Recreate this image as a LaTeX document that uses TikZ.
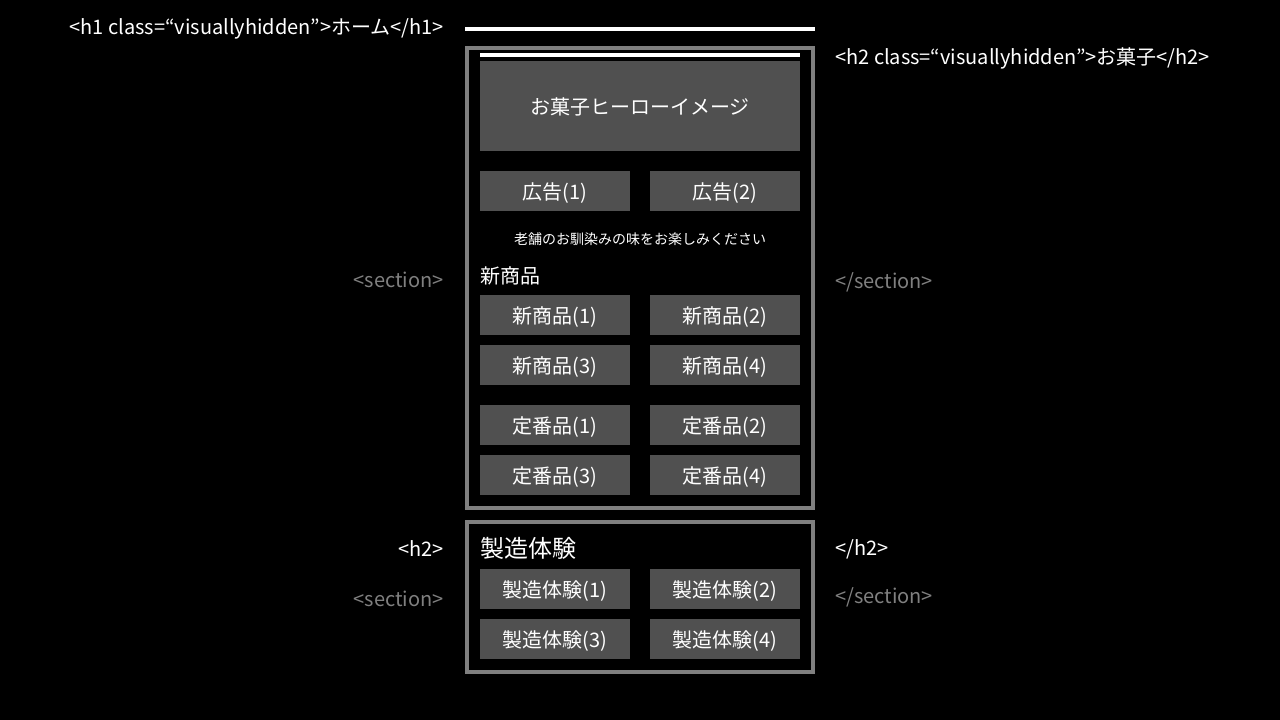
\documentclass[tikz,border=0pt]{standalone}
\usepackage{fontspec}
\setmainfont{Noto Sans CJK JP}
\usepackage{tikz}
\usetikzlibrary{positioning}
\definecolor{boxfill}{RGB}{80,80,80}
\definecolor{framegray}{RGB}{128,128,128}
\definecolor{taggray}{RGB}{128,128,128}

\begin{document}
\begin{tikzpicture}[
  x=1bp, y=-1bp,
  node distance=10bp and 20bp,
  item/.style={rectangle, fill=boxfill, text=white, minimum width=150bp,
               minimum height=40bp, inner sep=0pt, outer sep=0pt, align=center,
               text height=20bp, text depth=2.4bp,
               font=\fontsize{20bp}{24bp}\selectfont},
  hero/.style={item, minimum width=320bp, minimum height=90bp},
  frame/.style={rectangle, draw=framegray, line width=4bp, inner sep=0pt},
  rule/.style={draw=white, line width=4bp},
  heading/.style={text=white, inner sep=0pt, anchor=west,
                  font=\fontsize{20bp}{24bp}\selectfont},
  note/.style={text=white, inner sep=0pt, yshift=-1bp,
               font=\fontsize{14bp}{17bp}\selectfont},
  tag/.style={text=white, inner sep=0pt, yshift=-2bp,
              font=\fontsize{20bp}{24bp}\selectfont},
  sectag/.style={tag, text=taggray}
]
\fill[black] (0,0) rectangle (1280,720);
\useasboundingbox (0,0) rectangle (1280,720);

%% ---- outer rules and frames ----
\draw[rule] (465,29) -- (815,29);
\node[frame, minimum width=346bp, minimum height=460bp] (sweets) at (640,278) {};
\node[frame, minimum width=346bp, minimum height=150bp] (factory) at (640,597) {};
\draw[rule] (480,55) -- (800,55);

%% ---- sweets section ----
\node[hero] (hero) at (640,106) {お菓子ヒーローイメージ};
\node[item, anchor=north west] (ad1) at (480,171) {広告(1)};
\node[item, right=of ad1] (ad2) {広告(2)};
\node[note] (catch) at (640,238) {老舗のお馴染みの味をお楽しみください};
\node[heading] (newhead) at (480,276) {新商品};

\node[item, anchor=north west] (new1) at (480,295) {新商品(1)};
\node[item, right=of new1] (new2) {新商品(2)};
\node[item, below=of new1] (new3) {新商品(3)};
\node[item, right=of new3] (new4) {新商品(4)};

\node[item, below=20bp of new3] (std1) {定番品(1)};
\node[item, right=of std1] (std2) {定番品(2)};
\node[item, below=of std1] (std3) {定番品(3)};
\node[item, right=of std3] (std4) {定番品(4)};

%% ---- factory section ----
\node[heading, font=\fontsize{24bp}{28bp}\selectfont] (facthead) at (480,548) {製造体験};
\node[item, anchor=north west] (exp1) at (480,569) {製造体験(1)};
\node[item, right=of exp1] (exp2) {製造体験(2)};
\node[item, below=of exp1] (exp3) {製造体験(3)};
\node[item, right=of exp3] (exp4) {製造体験(4)};

%% ---- markup tags ----
\node[tag, anchor=east] (h1open) at (444,27) {<h1 class=“visuallyhidden”>ホーム</h1>};
\node[tag, anchor=west] (h2hidden) at (835,56) {<h2 class=“visuallyhidden”>お菓子</h2>};
\node[sectag, anchor=east] (secopen) at (444,278) {<section>};
\node[sectag, anchor=west] (secclose) at (835,280) {</section>};
\node[tag, anchor=east] (h2open) at (444,547) {<h2>};
\node[tag, anchor=west] (h2close) at (835,547) {</h2>};
\node[sectag, anchor=east] (secopen2) at (444,597) {<section>};
\node[sectag, anchor=west] (secclose2) at (835,595) {</section>};
\end{tikzpicture}
\end{document}
